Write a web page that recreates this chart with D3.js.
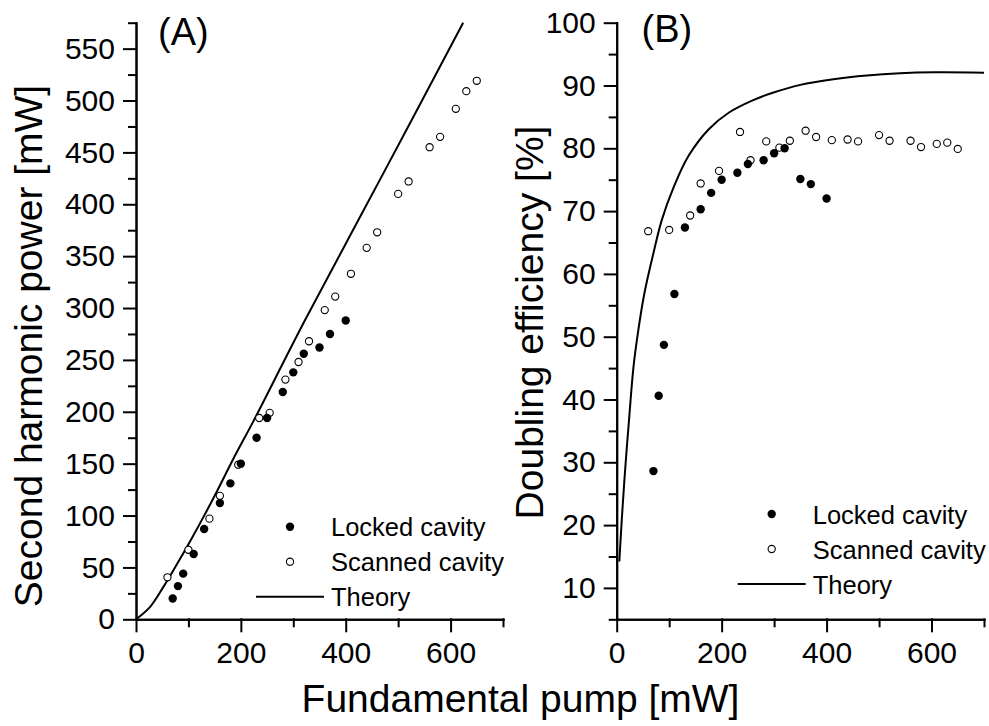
<!DOCTYPE html>
<html>
<head>
<meta charset="utf-8">
<script src="https://cdnjs.cloudflare.com/ajax/libs/d3/7.8.5/d3.min.js"></script>
<style>
body { margin: 0; background: #fff; }
svg { display: block; font-family: 'Liberation Sans', Arial, sans-serif; }
</style>
</head>
<body>
<svg width="989" height="726"></svg>
<script>
'use strict';

// ---- panel A: second harmonic power [mW] vs fundamental pump [mW]
var lockedPumpA = [70, 80, 90, 110, 130, 160, 180, 200, 230, 250, 280, 300, 320, 350, 370, 400];
var lockedPowerA = [20, 32, 44, 63, 87, 112, 131, 150, 175, 194, 219, 238, 256, 262, 275, 288];
var scannedPumpA = [60, 100, 140, 160, 195, 235, 255, 285, 310, 330, 360, 380, 410, 440, 460, 500, 520, 560, 580, 610, 630, 650];
var scannedPowerA = [40.5, 67, 97, 119, 149, 194, 199, 231, 248, 268, 298, 311, 333, 358, 373, 410, 422, 455, 465, 492, 509, 519];
var theoryPumpA = [0, 27, 52, 78, 103, 128, 154, 186, 224, 322, 472, 624];
var theoryPowerA = [0, 12, 31, 53, 75, 98, 123, 155, 191, 288, 430, 575];

// ---- panel B: doubling efficiency [%] vs fundamental pump [mW]
var lockedPumpB = [70, 80, 90, 110, 130, 160, 180, 200, 230, 250, 280, 300, 320, 350, 370, 400];
var lockedEffB = [28.6, 40.6, 48.7, 56.8, 67.4, 70.3, 72.9, 75.0, 76.1, 77.5, 78.1, 79.2, 80.0, 75.1, 74.3, 72.0];
var scannedPumpB = [60, 100, 140, 160, 195, 235, 255, 285, 310, 330, 360, 380, 410, 440, 460, 500, 520, 560, 580, 610, 630, 650];
var scannedEffB = [66.8, 67.0, 69.3, 74.4, 76.4, 82.6, 78.1, 81.1, 80.1, 81.2, 82.8, 81.8, 81.3, 81.4, 81.1, 82.1, 81.2, 81.2, 80.2, 80.7, 80.9, 79.9];
var theoryPumpB = [5, 10, 16.5, 24, 32, 42, 53, 70, 86, 109, 137, 175, 214, 258, 296, 350, 413, 477, 540, 604, 700];
var theoryEffB = [14.2, 21.3, 29.3, 37.3, 45.2, 51.5, 57, 63.3, 68.6, 73.9, 78.8, 83.0, 85.7, 87.6, 88.8, 90.1, 91.0, 91.6, 91.95, 92.1, 92.05];

// ---- ticks
var xTicks = [0, 200, 400, 600];
var xMinor = [100, 300, 500, 700];
var yTicksA = [0, 50, 100, 150, 200, 250, 300, 350, 400, 450, 500, 550];
var yMinorA = [25, 75, 125, 175, 225, 275, 325, 375, 425, 475, 525, 575];
var yTicksB = [10, 20, 30, 40, 50, 60, 70, 80, 90, 100];
var yMinorB = [5, 15, 25, 35, 45, 55, 65, 75, 85, 95];

var legendNames = ['Locked cavity', 'Scanned cavity', 'Theory'];

var svg = d3.select('svg');

var TOP = 22.7, BOTTOM = 619.3;

function zip(xs, ys) {
    return xs.map(function(v, i) { return [v, ys[i]]; });
}

function drawPanel(opt) {
    var x = d3.scaleLinear().domain([0, 700]).range(opt.xRange);
    var y = d3.scaleLinear().domain(opt.yDomain).range([BOTTOM, TOP]);
    var g = svg.append('g');

    //minor ticks first, then major axis on top
    var xMinorAxis = d3.axisBottom(x).tickValues(xMinor).tickSize(7).tickSizeOuter(0).tickFormat('');
    var yMinorAxis = d3.axisLeft(y).tickValues(opt.yMinor).tickSize(7).tickSizeOuter(0).tickFormat('');
    var xAxis = d3.axisBottom(x).tickValues(xTicks).tickSize(12).tickSizeOuter(0).tickPadding(10.5);
    var yAxis = d3.axisLeft(y).tickValues(opt.yTicks).tickSize(12).tickSizeOuter(0).tickPadding(9);

    [xMinorAxis, xAxis].forEach(function(ax) {
        g.append('g')
            .attr('transform', 'translate(0,' + BOTTOM + ')')
            .call(ax);
    });
    [yMinorAxis, yAxis].forEach(function(ax) {
        g.append('g')
            .attr('transform', 'translate(' + opt.xRange[0] + ',0)')
            .call(ax);
    });

    g.selectAll('.domain, .tick line')
        .attr('stroke', '#000')
        .attr('stroke-width', 2)
        .attr('stroke-linecap', 'square');
    g.selectAll('.tick text')
        .attr('fill', '#000')
        .style('font-family', "'Liberation Sans', Arial, sans-serif")
        .style('font-size', '30px');

    //theory curve
    var line = d3.line()
        .x(function(d) { return x(d[0]); })
        .y(function(d) { return y(d[1]); })
        .curve(d3.curveCatmullRom.alpha(0.5));

    g.append('path')
        .datum(zip(opt.theoryX, opt.theoryY))
        .attr('fill', 'none')
        .attr('stroke', '#000')
        .attr('stroke-width', 2)
        .attr('d', line);

    //scanned cavity (open)
    g.selectAll('circle.scanned')
        .data(zip(opt.scannedX, opt.scannedY))
        .enter()
        .append('circle')
        .attr('class', 'scanned')
        .attr('cx', function(d) { return x(d[0]); })
        .attr('cy', function(d) { return y(d[1]); })
        .attr('r', 3.6)
        .attr('fill', '#fff')
        .attr('stroke', '#000')
        .attr('stroke-width', 1.1);

    //locked cavity (filled)
    g.selectAll('circle.locked')
        .data(zip(opt.lockedX, opt.lockedY))
        .enter()
        .append('circle')
        .attr('class', 'locked')
        .attr('cx', function(d) { return x(d[0]); })
        .attr('cy', function(d) { return y(d[1]); })
        .attr('r', 4.2)
        .attr('fill', '#000');

    //panel letter
    g.append('text')
        .attr('x', opt.letterPos[0])
        .attr('y', opt.letterPos[1])
        .style('font-size', '38px')
        .text(opt.letter);

    //y label
    g.append('text')
        .attr('transform', 'translate(' + opt.yLabelPos[0] + ',' + opt.yLabelPos[1] + ') rotate(-90)')
        .attr('text-anchor', 'middle')
        .style('font-size', '39px')
        .text(opt.yLabel);

    //legend
    var lg = g.append('g')
        .attr('transform', 'translate(' + opt.legendPos[0] + ',' + opt.legendPos[1] + ')');
    lg.append('circle')
        .attr('cx', 0).attr('cy', 0).attr('r', 4.2).attr('fill', '#000');
    lg.append('circle')
        .attr('cx', 0).attr('cy', 35).attr('r', 3.6)
        .attr('fill', '#fff').attr('stroke', '#000').attr('stroke-width', 1.1);
    lg.append('line')
        .attr('x1', -34).attr('x2', 34).attr('y1', 70).attr('y2', 70)
        .attr('stroke', '#000').attr('stroke-width', 2);
    lg.selectAll('text')
        .data(legendNames)
        .enter()
        .append('text')
        .attr('x', 41)
        .attr('y', function(d, i) { return i * 35 + 9.5; })
        .style('font-size', '25.5px')
        .text(function(d) { return d; });
}

drawPanel({
    xRange: [136, 503],
    yDomain: [0, 575],
    yTicks: yTicksA,
    yMinor: yMinorA,
    lockedX: lockedPumpA, lockedY: lockedPowerA,
    scannedX: scannedPumpA, scannedY: scannedPowerA,
    theoryX: theoryPumpA, theoryY: theoryPowerA,
    letter: '(A)',
    letterPos: [158, 45],
    yLabel: 'Second harmonic power [mW]',
    yLabelPos: [41.5, 346],
    legendPos: [290, 526.7]
});

drawPanel({
    xRange: [616.7, 984],
    yDomain: [5, 100],
    yTicks: yTicksB,
    yMinor: yMinorB,
    lockedX: lockedPumpB, lockedY: lockedEffB,
    scannedX: scannedPumpB, scannedY: scannedEffB,
    theoryX: theoryPumpB, theoryY: theoryEffB,
    letter: '(B)',
    letterPos: [641.5, 41.7],
    yLabel: 'Doubling efficiency [%]',
    yLabelPos: [543.3, 322.5],
    legendPos: [771.7, 514]
});

//shared x label
svg.append('text')
    .attr('x', 520.5)
    .attr('y', 712)
    .attr('text-anchor', 'middle')
    .style('font-size', '39px')
    .text('Fundamental pump [mW]');
</script>
</body>
</html>
